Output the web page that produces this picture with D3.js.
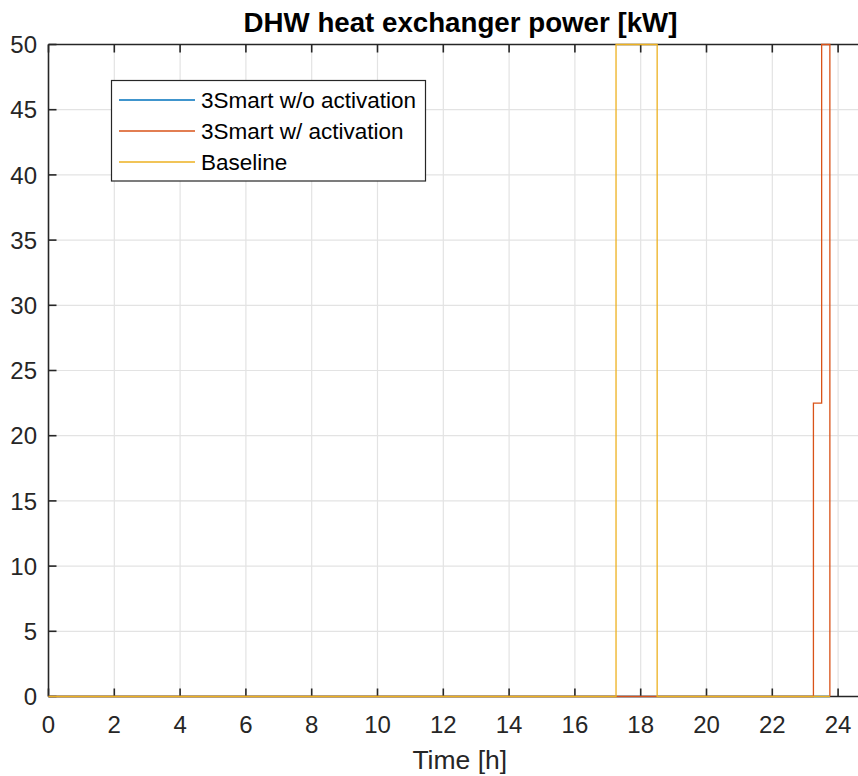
<!DOCTYPE html>
<html>
<head>
<meta charset="utf-8">
<script src="https://cdn.jsdelivr.net/npm/d3@7"></script>
<style>
  html, body { margin: 0; padding: 0; background: #fff; }
  svg { display: block; font-family: "Liberation Sans", Arial, Helvetica, sans-serif; }
</style>
</head>
<body>
<svg id="chart" width="858" height="776"></svg>
<script>
// ---- data ----
const seriesNames = ["3Smart w/o activation", "3Smart w/ activation", "Baseline"];
const seriesColors = ["#0072BD", "#D95319", "#EDB120"];
// step-after breakpoints: time [h] and power [kW]
const woActT = [0, 23.75];
const woActP = [0, 0];
const wActT = [0, 23.25, 23.5, 23.75];
const wActP = [0, 22.5, 50, 0];
const baseT = [0, 17.25, 18.5, 23.75];
const baseP = [0, 50, 0, 0];
const xTicks = [0, 2, 4, 6, 8, 10, 12, 14, 16, 18, 20, 22, 24];
const yTicks = [0, 5, 10, 15, 20, 25, 30, 35, 40, 45, 50];
const titleText = "DHW heat exchanger power [kW]";
const xLabelText = "Time [h]";

// ---- layout ----
const svg = d3.select("#chart");
const pLeft = 48.5, pTop = 44.5, pBottom = 696.5;
const pxPerH = 32.9;
const x = d3.scaleLinear().domain([0, 25]).range([pLeft, pLeft + 25 * pxPerH]);
const y = d3.scaleLinear().domain([0, 50]).range([pBottom, pTop]);
const pRight = x(25);
const axisColor = "#262626";
const tickLen = 8;

// grid
const grid = svg.append("g");
grid.selectAll("line.vx").data(xTicks.filter(d => d > 0)).enter().append("line")
  .attr("x1", d => x(d)).attr("x2", d => x(d))
  .attr("y1", pTop).attr("y2", pBottom)
  .attr("stroke", "#e3e3e3").attr("stroke-width", 1.2);
grid.selectAll("line.hy").data(yTicks.filter(d => d > 0 && d < 50)).enter().append("line")
  .attr("x1", pLeft).attr("x2", pRight)
  .attr("y1", d => y(d)).attr("y2", d => y(d))
  .attr("stroke", "#e3e3e3").attr("stroke-width", 1.2);

// axes box + ticks
const ax = svg.append("g");
ax.append("line").attr("x1", pLeft).attr("x2", pRight).attr("y1", pTop).attr("y2", pTop)
  .attr("stroke", axisColor).attr("stroke-width", 1.6);
ax.append("line").attr("x1", pLeft).attr("x2", pRight).attr("y1", pBottom).attr("y2", pBottom)
  .attr("stroke", axisColor).attr("stroke-width", 1.6);
ax.append("line").attr("x1", pLeft).attr("x2", pLeft).attr("y1", pTop).attr("y2", pBottom)
  .attr("stroke", axisColor).attr("stroke-width", 1.6);

ax.selectAll("line.tb").data(xTicks).enter().append("line")
  .attr("x1", d => x(d)).attr("x2", d => x(d))
  .attr("y1", pBottom).attr("y2", pBottom - tickLen)
  .attr("stroke", axisColor).attr("stroke-width", 1.6);
ax.selectAll("line.tt").data(xTicks).enter().append("line")
  .attr("x1", d => x(d)).attr("x2", d => x(d))
  .attr("y1", pTop).attr("y2", pTop + tickLen)
  .attr("stroke", axisColor).attr("stroke-width", 1.6);
ax.selectAll("line.tl").data(yTicks).enter().append("line")
  .attr("x1", pLeft).attr("x2", pLeft + tickLen)
  .attr("y1", d => y(d)).attr("y2", d => y(d))
  .attr("stroke", axisColor).attr("stroke-width", 1.6);

// tick labels
ax.selectAll("text.xl").data(xTicks).enter().append("text")
  .attr("x", d => x(d)).attr("y", 732.5)
  .attr("text-anchor", "middle").attr("font-size", 24).attr("fill", axisColor)
  .text(d => d);
ax.selectAll("text.yl").data(yTicks).enter().append("text")
  .attr("x", 37).attr("y", d => y(d) + 8.6)
  .attr("text-anchor", "end").attr("font-size", 24).attr("fill", axisColor)
  .text(d => d);

// labels
svg.append("text").attr("x", (pLeft + pRight) / 2).attr("y", 769)
  .attr("text-anchor", "middle").attr("font-size", 26.5).attr("fill", axisColor)
  .text(xLabelText);
svg.append("text").attr("x", 460.5).attr("y", 31.7)
  .attr("text-anchor", "middle").attr("font-size", 27.7).attr("font-weight", "bold").attr("fill", "#000")
  .text(titleText);

// data lines
const line = d3.line().x(d => x(d[0])).y(d => y(d[1])).curve(d3.curveStepAfter);
const series = [
  d3.zip(woActT, woActP),
  d3.zip(wActT, wActP),
  d3.zip(baseT, baseP)
];
svg.append("g").selectAll("path").data(series).enter().append("path")
  .attr("d", d => line(d))
  .attr("fill", "none")
  .attr("stroke", (d, i) => seriesColors[i])
  .attr("stroke-width", 1.3);

// legend
const lg = svg.append("g");
lg.append("rect").attr("x", 111.5).attr("y", 80.5).attr("width", 314).attr("height", 100.5)
  .attr("fill", "#fff").attr("stroke", axisColor).attr("stroke-width", 1.2);
const rowY = [100, 131, 162];
seriesNames.forEach((name, i) => {
  lg.append("line").attr("x1", 119).attr("x2", 195).attr("y1", rowY[i]).attr("y2", rowY[i])
    .attr("stroke", seriesColors[i]).attr("stroke-width", 1.3);
  lg.append("text").attr("x", 201).attr("y", rowY[i] + 7.8)
    .attr("font-size", 22.5).attr("fill", "#000").text(name);
});
</script>
</body>
</html>
